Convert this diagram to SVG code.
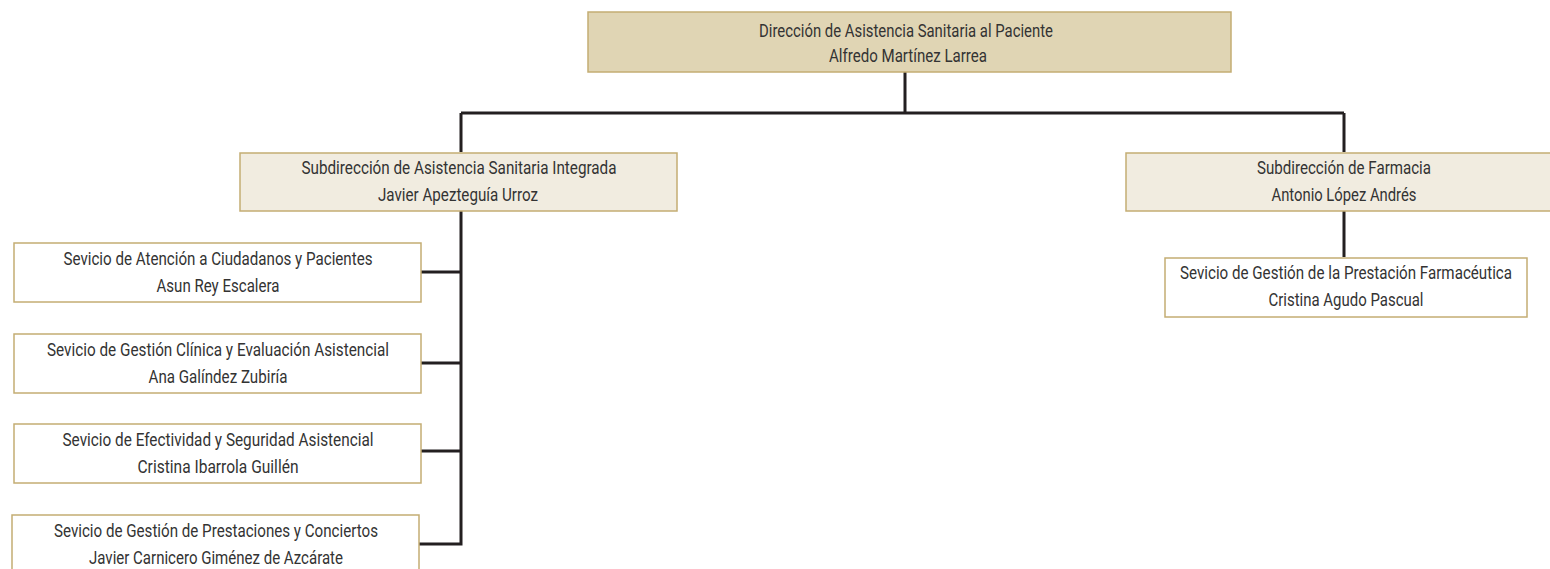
<svg xmlns="http://www.w3.org/2000/svg" width="1550" height="569" viewBox="0 0 1550 569">
<style>
.top{fill:#e0d5b4;stroke:#c4ad73;stroke-width:1.5}
.sub{fill:#f1ece0;stroke:#c4ad73;stroke-width:1.5}
.svc{fill:#ffffff;stroke:#c4ad73;stroke-width:1.5}
text{font-family:"Liberation Sans Narrow","Roboto","Liberation Sans",sans-serif;font-size:19px;fill:#333333;text-anchor:middle}
.conn{stroke:#231f20;stroke-width:3;fill:none}
</style>
<rect width="1550" height="569" fill="#ffffff"/>
<g id="connectors">
<path class="conn" d="M905 72V113M461 113H1344M461 113V152M1344 113V152M461 211V545.5M421 272H461M421 363H461M421 451H461M419 544H461M1344 211V257"/>
</g>
<g id="n-direccion">
<rect class="top" x="588" y="12" width="643" height="60"/>
<text x="906" y="37" textLength="294" lengthAdjust="spacingAndGlyphs">Dirección de Asistencia Sanitaria al Paciente</text>
<text x="908" y="62" textLength="158" lengthAdjust="spacingAndGlyphs">Alfredo Martínez Larrea</text>
</g>
<g id="n-sub-asistencia">
<rect class="sub" x="240" y="153" width="437" height="58"/>
<text x="459" y="174" textLength="315" lengthAdjust="spacingAndGlyphs">Subdirección de Asistencia Sanitaria Integrada</text>
<text x="458" y="201" textLength="160" lengthAdjust="spacingAndGlyphs">Javier Apezteguía Urroz</text>
</g>
<g id="n-sub-farmacia">
<rect class="sub" x="1126" y="153" width="430" height="58"/>
<text x="1344" y="174" textLength="174" lengthAdjust="spacingAndGlyphs">Subdirección de Farmacia</text>
<text x="1344" y="201" textLength="145" lengthAdjust="spacingAndGlyphs">Antonio López Andrés</text>
</g>
<g id="n-svc-farmacia">
<rect class="svc" x="1165" y="258" width="362" height="59"/>
<text x="1346" y="279" textLength="332" lengthAdjust="spacingAndGlyphs">Sevicio de Gestión de la Prestación Farmacéutica</text>
<text x="1346" y="306" textLength="155" lengthAdjust="spacingAndGlyphs">Cristina Agudo Pascual</text>
</g>
<g id="n-svc-atencion">
<rect class="svc" x="14" y="243" width="407" height="59"/>
<text x="218" y="265" textLength="309" lengthAdjust="spacingAndGlyphs">Sevicio de Atención a Ciudadanos y Pacientes</text>
<text x="218" y="292" textLength="123" lengthAdjust="spacingAndGlyphs">Asun Rey Escalera</text>
</g>
<g id="n-svc-gestion-clinica">
<rect class="svc" x="14" y="334" width="407" height="59"/>
<text x="218" y="356" textLength="342" lengthAdjust="spacingAndGlyphs">Sevicio de Gestión Clínica y Evaluación Asistencial</text>
<text x="218" y="383" textLength="139" lengthAdjust="spacingAndGlyphs">Ana Galíndez Zubiría</text>
</g>
<g id="n-svc-efectividad">
<rect class="svc" x="14" y="424" width="407" height="59"/>
<text x="218" y="446" textLength="311" lengthAdjust="spacingAndGlyphs">Sevicio de Efectividad y Seguridad Asistencial</text>
<text x="218" y="473" textLength="161" lengthAdjust="spacingAndGlyphs">Cristina Ibarrola Guillén</text>
</g>
<g id="n-svc-prestaciones">
<rect class="svc" x="12" y="515" width="407" height="59"/>
<text x="216" y="537" textLength="324" lengthAdjust="spacingAndGlyphs">Sevicio de Gestión de Prestaciones y Conciertos</text>
<text x="216" y="564" textLength="254" lengthAdjust="spacingAndGlyphs">Javier Carnicero Giménez de Azcárate</text>
</g>
</svg>
